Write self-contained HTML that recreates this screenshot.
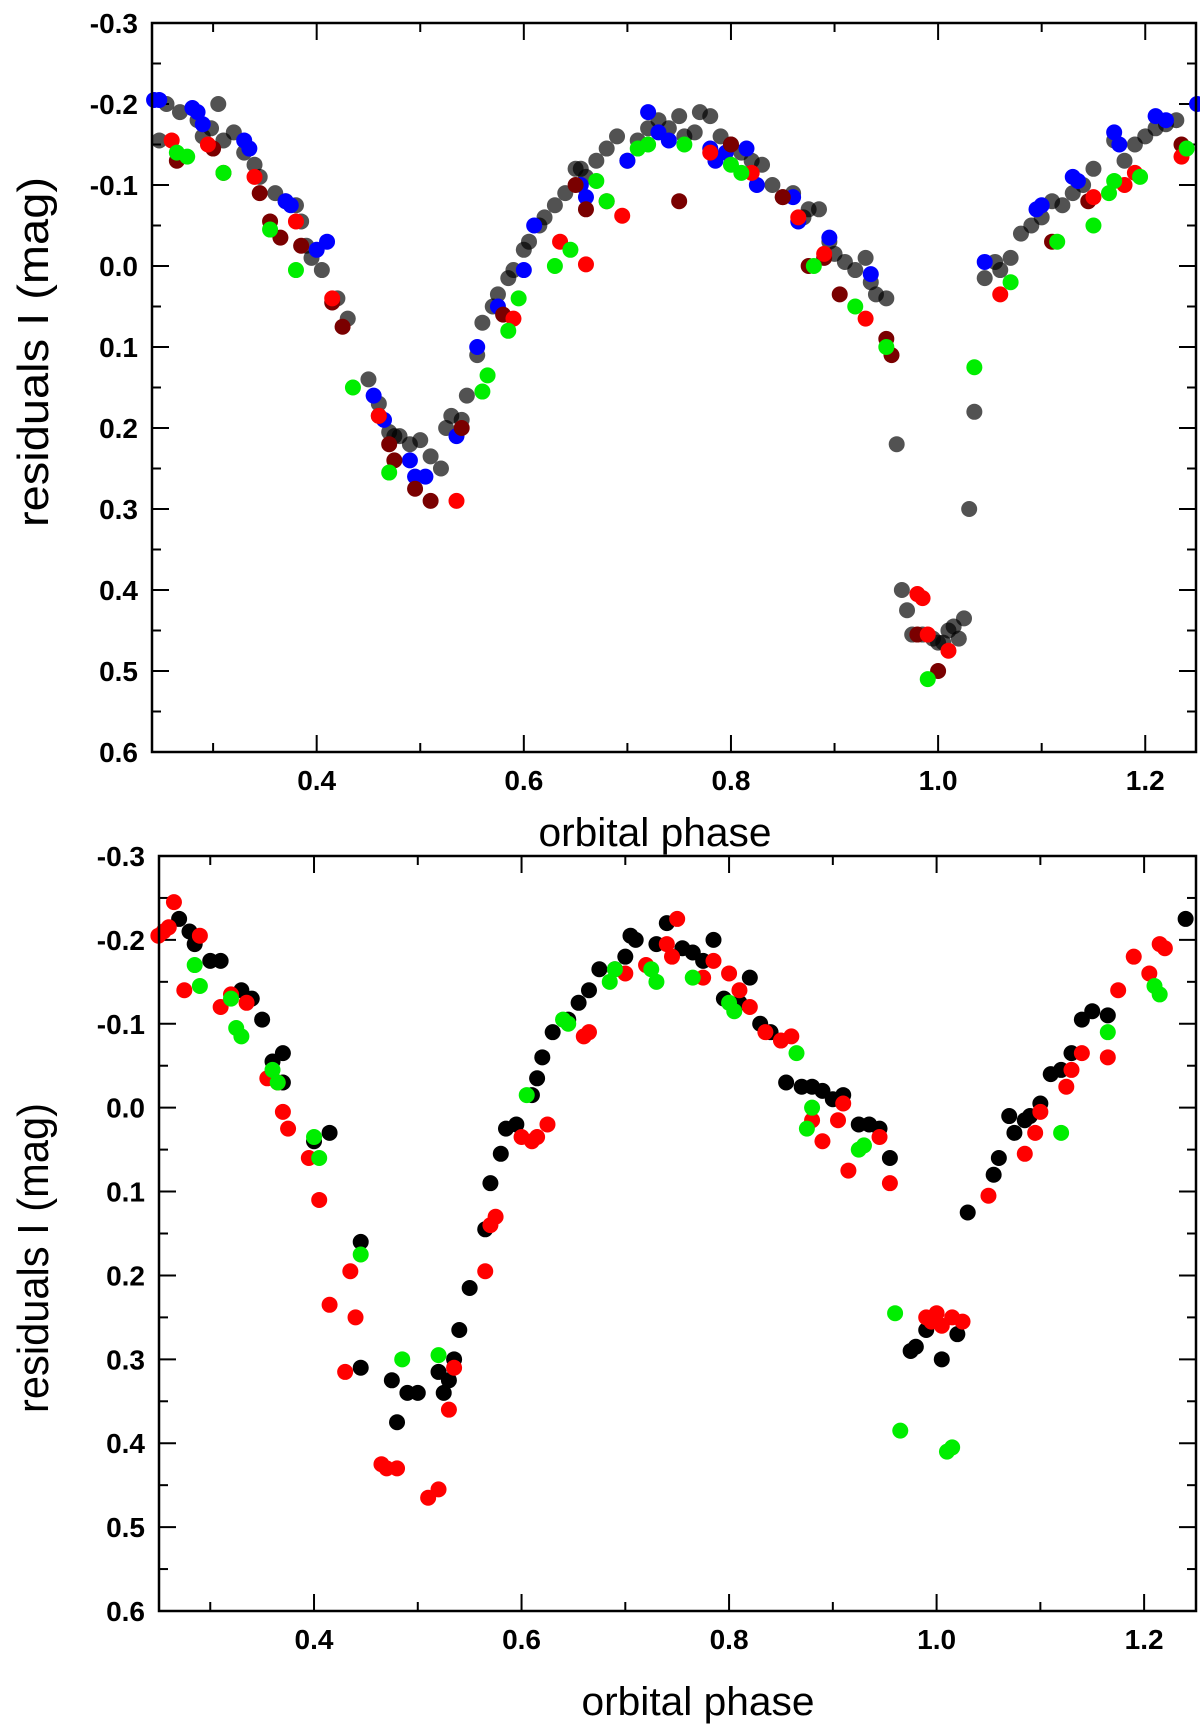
<!DOCTYPE html>
<html><head><meta charset="utf-8"><style>
html,body{margin:0;padding:0;background:#fff;}
svg{display:block;font-family:"Liberation Sans",sans-serif;}
</style></head><body>
<svg id="c" width="1200" height="1724" viewBox="0 0 1200 1724"></svg>
<script>
const topGray=[[0.248,-0.155],[0.255,-0.20],[0.268,-0.19],[0.285,-0.18],[0.29,-0.16],[0.298,-0.17],[0.305,-0.20],[0.31,-0.155],[0.32,-0.165],[0.33,-0.14],[0.34,-0.125],[0.345,-0.11],[0.36,-0.09],[0.37,-0.08],[0.38,-0.075],[0.385,-0.055],[0.39,-0.025],[0.395,-0.01],[0.405,0.005],[0.42,0.04],[0.43,0.065],[0.45,0.14],[0.46,0.17],[0.47,0.205],[0.475,0.21],[0.48,0.21],[0.49,0.22],[0.50,0.215],[0.51,0.235],[0.52,0.25],[0.525,0.20],[0.53,0.185],[0.54,0.19],[0.545,0.16],[0.555,0.11],[0.56,0.07],[0.57,0.05],[0.575,0.035],[0.585,0.015],[0.59,0.005],[0.60,-0.02],[0.605,-0.03],[0.615,-0.05],[0.62,-0.06],[0.63,-0.075],[0.64,-0.09],[0.65,-0.12],[0.655,-0.12],[0.66,-0.11],[0.67,-0.13],[0.68,-0.145],[0.69,-0.16],[0.70,-0.13],[0.71,-0.155],[0.72,-0.17],[0.73,-0.18],[0.74,-0.17],[0.75,-0.185],[0.755,-0.16],[0.765,-0.165],[0.77,-0.19],[0.78,-0.185],[0.79,-0.16],[0.80,-0.15],[0.81,-0.14],[0.82,-0.13],[0.83,-0.125],[0.84,-0.10],[0.85,-0.085],[0.86,-0.09],[0.87,-0.06],[0.875,-0.07],[0.885,-0.07],[0.895,-0.03],[0.90,-0.015],[0.91,-0.005],[0.92,0.005],[0.93,-0.01],[0.935,0.02],[0.94,0.035],[0.95,0.04],[0.96,0.22],[0.965,0.40],[0.97,0.425],[0.975,0.455],[0.985,0.455],[0.995,0.46],[1.0,0.465],[1.005,0.465],[1.01,0.45],[1.015,0.445],[1.02,0.46],[1.025,0.435],[1.03,0.30],[1.035,0.18],[1.045,0.015],[1.055,-0.005],[1.06,0.005],[1.07,-0.01],[1.08,-0.04],[1.09,-0.05],[1.10,-0.06],[1.11,-0.08],[1.12,-0.075],[1.13,-0.09],[1.14,-0.10],[1.15,-0.12],[1.17,-0.155],[1.18,-0.13],[1.19,-0.15],[1.20,-0.16],[1.21,-0.17],[1.22,-0.175],[1.23,-0.18]];
const topBlue=[[0.243,-0.205],[0.248,-0.205],[0.28,-0.195],[0.29,-0.175],[0.285,-0.19],[0.33,-0.155],[0.335,-0.145],[0.37,-0.08],[0.375,-0.075],[0.40,-0.02],[0.41,-0.03],[0.455,0.16],[0.465,0.19],[0.49,0.24],[0.495,0.26],[0.505,0.26],[0.535,0.21],[0.555,0.10],[0.575,0.05],[0.60,0.005],[0.61,-0.05],[0.655,-0.10],[0.66,-0.085],[0.70,-0.13],[0.72,-0.19],[0.73,-0.165],[0.74,-0.155],[0.78,-0.145],[0.785,-0.13],[0.795,-0.14],[0.815,-0.145],[0.825,-0.10],[0.86,-0.085],[0.865,-0.055],[0.895,-0.035],[0.935,0.01],[1.045,-0.005],[1.095,-0.07],[1.10,-0.075],[1.13,-0.11],[1.135,-0.105],[1.17,-0.165],[1.175,-0.15],[1.21,-0.185],[1.22,-0.18],[1.25,-0.2]];
const topDarkRed=[[0.265,-0.13],[0.30,-0.145],[0.31,-0.115],[0.345,-0.09],[0.355,-0.055],[0.365,-0.035],[0.385,-0.025],[0.415,0.045],[0.425,0.075],[0.46,0.185],[0.47,0.22],[0.475,0.24],[0.495,0.275],[0.51,0.29],[0.54,0.20],[0.58,0.06],[0.65,-0.1],[0.66,-0.07],[0.68,-0.08],[0.75,-0.08],[0.80,-0.15],[0.85,-0.085],[0.875,0.0],[0.89,-0.01],[0.905,0.035],[0.95,0.09],[0.955,0.11],[0.98,0.455],[1.0,0.50],[1.11,-0.03],[1.145,-0.08],[1.235,-0.15]];
const topRed=[[0.26,-0.155],[0.295,-0.15],[0.34,-0.11],[0.38,-0.055],[0.415,0.04],[0.46,0.185],[0.535,0.29],[0.59,0.065],[0.635,-0.03],[0.66,-0.002],[0.695,-0.062],[0.78,-0.14],[0.82,-0.115],[0.865,-0.06],[0.89,-0.015],[0.93,0.065],[0.98,0.405],[0.985,0.41],[0.99,0.455],[1.01,0.475],[1.06,0.035],[1.15,-0.085],[1.18,-0.10],[1.19,-0.115],[1.235,-0.135]];
const topGreen=[[0.265,-0.14],[0.275,-0.135],[0.31,-0.115],[0.355,-0.045],[0.38,0.005],[0.435,0.15],[0.47,0.255],[0.56,0.155],[0.565,0.135],[0.585,0.08],[0.595,0.04],[0.63,0.0],[0.645,-0.02],[0.67,-0.105],[0.68,-0.08],[0.71,-0.145],[0.72,-0.15],[0.755,-0.15],[0.80,-0.125],[0.81,-0.115],[0.88,0.0],[0.92,0.05],[0.95,0.10],[0.99,0.51],[1.035,0.125],[1.07,0.02],[1.115,-0.03],[1.15,-0.05],[1.165,-0.09],[1.17,-0.105],[1.195,-0.11],[1.24,-0.145]];
const botBlack=[[0.27,-0.225],[0.28,-0.21],[0.285,-0.195],[0.30,-0.175],[0.31,-0.175],[0.33,-0.14],[0.34,-0.13],[0.35,-0.105],[0.36,-0.055],[0.37,-0.065],[0.37,-0.03],[0.40,0.04],[0.415,0.03],[0.445,0.16],[0.445,0.31],[0.475,0.325],[0.48,0.375],[0.49,0.34],[0.50,0.34],[0.52,0.315],[0.525,0.34],[0.53,0.325],[0.535,0.30],[0.54,0.265],[0.55,0.215],[0.565,0.145],[0.57,0.09],[0.58,0.055],[0.585,0.025],[0.595,0.02],[0.61,-0.015],[0.615,-0.035],[0.62,-0.06],[0.63,-0.09],[0.645,-0.105],[0.655,-0.125],[0.665,-0.14],[0.675,-0.165],[0.69,-0.165],[0.70,-0.18],[0.705,-0.205],[0.71,-0.20],[0.73,-0.195],[0.74,-0.22],[0.755,-0.19],[0.765,-0.185],[0.775,-0.175],[0.785,-0.2],[0.795,-0.13],[0.81,-0.125],[0.82,-0.155],[0.83,-0.1],[0.84,-0.09],[0.855,-0.03],[0.87,-0.025],[0.88,-0.025],[0.89,-0.02],[0.9,-0.01],[0.91,-0.015],[0.925,0.02],[0.935,0.02],[0.945,0.025],[0.955,0.06],[0.975,0.29],[0.98,0.285],[0.99,0.265],[1.005,0.30],[1.02,0.27],[1.03,0.125],[1.055,0.08],[1.06,0.06],[1.07,0.01],[1.075,0.03],[1.085,0.015],[1.09,0.01],[1.1,-0.005],[1.11,-0.04],[1.12,-0.045],[1.13,-0.065],[1.14,-0.105],[1.15,-0.115],[1.165,-0.11],[1.24,-0.225]];
const botRed=[[0.25,-0.205],[0.255,-0.21],[0.26,-0.215],[0.265,-0.245],[0.275,-0.14],[0.29,-0.205],[0.31,-0.12],[0.32,-0.135],[0.335,-0.125],[0.355,-0.035],[0.365,-0.03],[0.37,0.005],[0.375,0.025],[0.395,0.06],[0.405,0.11],[0.415,0.235],[0.43,0.315],[0.435,0.195],[0.44,0.25],[0.465,0.425],[0.47,0.43],[0.48,0.43],[0.51,0.465],[0.52,0.455],[0.53,0.36],[0.535,0.31],[0.565,0.195],[0.57,0.14],[0.575,0.13],[0.60,0.035],[0.61,0.04],[0.615,0.035],[0.625,0.02],[0.66,-0.085],[0.665,-0.09],[0.70,-0.16],[0.72,-0.17],[0.74,-0.195],[0.745,-0.18],[0.75,-0.225],[0.775,-0.155],[0.785,-0.175],[0.80,-0.16],[0.81,-0.14],[0.82,-0.12],[0.835,-0.09],[0.85,-0.08],[0.86,-0.085],[0.88,0.015],[0.89,0.04],[0.905,0.015],[0.91,-0.005],[0.915,0.075],[0.945,0.035],[0.955,0.09],[0.99,0.25],[0.995,0.255],[1.0,0.245],[1.005,0.26],[1.015,0.25],[1.025,0.255],[1.05,0.105],[1.085,0.055],[1.095,0.03],[1.10,0.005],[1.125,-0.025],[1.13,-0.045],[1.14,-0.065],[1.165,-0.06],[1.175,-0.14],[1.19,-0.18],[1.205,-0.16],[1.215,-0.195],[1.22,-0.19]];
const botGreen=[[0.285,-0.17],[0.29,-0.145],[0.32,-0.13],[0.325,-0.095],[0.33,-0.085],[0.36,-0.045],[0.365,-0.03],[0.40,0.035],[0.405,0.06],[0.445,0.175],[0.485,0.30],[0.52,0.295],[0.605,-0.015],[0.64,-0.105],[0.645,-0.1],[0.685,-0.15],[0.69,-0.165],[0.725,-0.165],[0.73,-0.15],[0.765,-0.155],[0.80,-0.125],[0.805,-0.115],[0.865,-0.065],[0.875,0.025],[0.88,0.0],[0.925,0.05],[0.93,0.045],[0.96,0.245],[0.965,0.385],[1.01,0.41],[1.015,0.405],[1.12,0.03],[1.165,-0.09],[1.21,-0.145],[1.215,-0.135]];
const xTickLabels=["0.4","0.6","0.8","1.0","1.2"];
const yTickLabels=["-0.3","-0.2","-0.1","0.0","0.1","0.2","0.3","0.4","0.5","0.6"];

const NS="http://www.w3.org/2000/svg";
const svg=document.getElementById('c');
function mk(tag,attrs,parent){const e=document.createElementNS(NS,tag);for(const k in attrs)e.setAttribute(k,attrs[k]);(parent||svg).appendChild(e);return e;}

function panel(p){
  const g=mk('g',{});
  
  
  const X=v=>p.L+(v-p.x0)/(p.x1-p.x0)*(p.R-p.L);
  const Y=v=>p.T+(v-(-0.3))/0.9*(p.B-p.T);
  for(let i=0;i<=10;i++){
    const v=0.3+i*0.1; if(v<p.x0||v>p.x1+1e-9)continue;
    const major=(i%2===1); const len=major?17:9; const x=X(v);
    const t1=mk('line',{x1:x,y1:p.B,x2:x,y2:p.B-len,stroke:'#000','stroke-width':2},g);
    
    
    const t2=mk('line',{x1:x,y1:p.T,x2:x,y2:p.T+len,stroke:'#000','stroke-width':2},g);
    
    
  }
  xTickLabels.forEach(s=>{
    const t=mk('text',{x:X(parseFloat(s)),y:p.B+38,'text-anchor':'middle','font-size':28,'font-weight':'bold'},g);
    t.textContent=s;
    
    
  });
  for(let i=0;i<=18;i++){
    const v=-0.3+i*0.05; const y=Y(v); const len=(i%2===0)?17:9;
    const t1=mk('line',{x1:p.L,y1:y,x2:p.L+len,y2:y,stroke:'#000','stroke-width':2},g);
    
    
    const t2=mk('line',{x1:p.R,y1:y,x2:p.R-len,y2:y,stroke:'#000','stroke-width':2},g);
    
    
  }
  yTickLabels.forEach(s=>{
    const t=mk('text',{x:p.L-14,y:Y(parseFloat(s))+10,'text-anchor':'end','font-size':28,'font-weight':'bold'},g);
    t.textContent=s;
    
    
  });
  p.series.forEach(s=>{
    const sg=mk('g',{fill:s.c},g);
    
    
    s.d.forEach(d=>{
      const c=mk('circle',{cx:X(d[0]),cy:Y(d[1]),r:8},sg);
      
      
    });
  });
  const fr=mk('rect',{x:p.L,y:p.T,width:p.R-p.L,height:p.B-p.T,fill:'none',stroke:'#000','stroke-width':2.5},g);
  
  
  const xt=mk('text',{x:p.xtx,y:p.xt,'text-anchor':'middle','font-size':40,textLength:233,lengthAdjust:'spacingAndGlyphs'},g);
  xt.textContent='orbital phase';
  
  
  const yt=mk('text',{x:0,y:0,'text-anchor':'middle','font-size':44,textLength:p.ytl,lengthAdjust:'spacingAndGlyphs',transform:`translate(48,${p.ytc}) rotate(-90)`},g);
  yt.textContent='residuals I (mag)';
  
  
}
panel({name:'top-panel',L:152,R:1196,T:23,B:752,x0:0.241,x1:1.249,xt:846,xtx:655,ytc:352,ytl:350,series:[
  {n:'series-gray',c:'rgba(0,0,0,0.68)',d:topGray},
  {n:'series-blue',c:'#0000ff',d:topBlue},
  {n:'series-darkred',c:'#7a0000',d:topDarkRed},
  {n:'series-red',c:'#ff0000',d:topRed},
  {n:'series-green',c:'#00ee00',d:topGreen}]});
panel({name:'bottom-panel',L:159,R:1196,T:856,B:1611,x0:0.2506,x1:1.25,xt:1715,xtx:698,ytc:1258,ytl:310,series:[
  {n:'series-black',c:'#000',d:botBlack},
  {n:'series-red',c:'#ff0000',d:botRed},
  {n:'series-green',c:'#00ee00',d:botGreen}]});
</script>
</body></html>
